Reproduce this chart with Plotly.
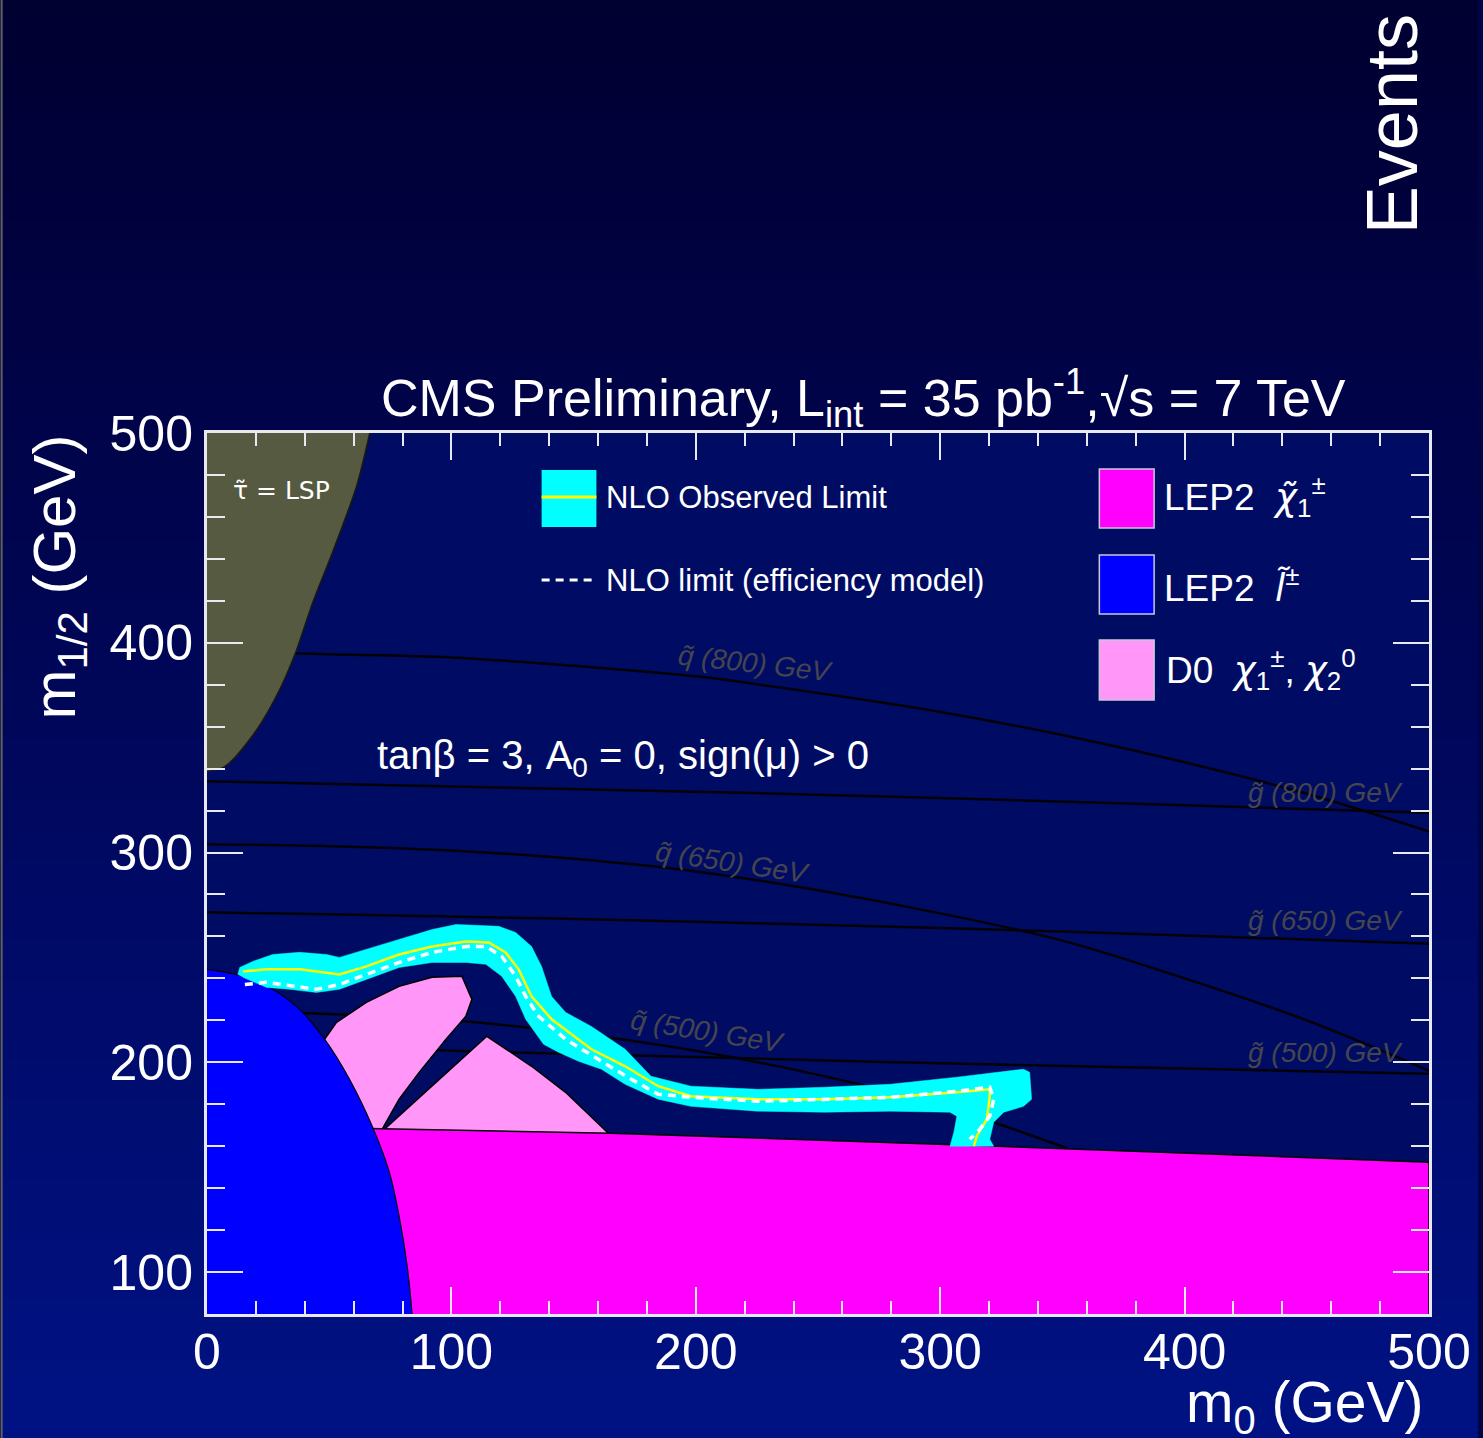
import plotly.graph_objects as go

# ---------------- data ----------------
# iso-mass lines (m0, m1/2) in GeV
q800_m0 = [36, 50, 100, 150, 200, 250, 300, 350, 400, 450, 500]
q800_m12 = [395, 394.5, 393, 389, 384, 376, 367, 356, 343, 328, 310]
q650_m0 = [0, 50, 100, 150, 200, 250, 300, 350, 400, 450, 500]
q650_m12 = [304, 303, 301, 297, 291, 282, 271, 258, 240, 220, 196]
q500_m0 = [30, 50, 100, 150, 200, 250, 300, 352]
q500_m12 = [224, 223, 220, 214, 205.5, 194, 179.5, 159]
g800_m0 = [0, 100, 200, 300, 400, 500]
g800_m12 = [334, 331.5, 329, 326, 322.5, 319]
g650_m0 = [0, 100, 200, 300, 400, 500]
g650_m12 = [271.5, 269.5, 267, 264, 260.5, 256.5]
g500_m0 = [45, 100, 200, 300, 400, 500]
g500_m12 = [208, 205.5, 202.5, 199.5, 197, 194.5]

# stau = LSP region boundary
stau_m0 = [-10, 0, 6.5, 10.6, 20.4, 29.7, 36.7, 43.2, 51.3, 61.1, 66.4, 70, 40, -10]
stau_m12 = [337, 338.6, 340.5, 344.3, 358.6, 377.6, 396.7, 419, 442.9, 474.3, 499, 520, 530, 520]

# LEP2 slepton region
blue_m0 = [-10, 0, 14.7, 26.9, 37.9, 48.1, 58.3, 67.6, 74.6, 78.6, 81.9, 83.9, 85, 40, -10]
blue_m12 = [245, 244.3, 241.0, 234.8, 225.2, 211.0, 191.9, 169.5, 147.6, 126.7, 102.9, 80, 60, 50, 60]

# LEP2 chargino region
mag_m0 = [0, 70, 165, 323, 500, 500, 0]
mag_m12 = [170, 168.4, 166.2, 160, 152.4, 70, 70]

# D0 chargino/neutralino regions
d0a_m0 = [48.1, 53.0, 65.2, 78.6, 92.1, 104.3, 108.4, 105.9, 97.8, 86.8, 78.6, 71.7, 60, 42]
d0a_m12 = [211.0, 219.0, 228.6, 236.2, 240.5, 241.0, 230, 221.9, 211, 195.2, 182.4, 168.1, 168, 205]
d0b_m0 = [72.5, 114.5, 132.8, 146.7, 164.2, 164.2, 72.5]
d0b_m12 = [168.0, 212.4, 198.1, 185.7, 166.2, 164, 166]

# NLO observed limit band (closed outline)
band_m0 = [12.6, 13.4, 18.7, 26.9, 37.9, 48.9, 54.2, 65.2, 78.6, 92.1, 101.9, 119.4, 126.3,
           132.8, 136.9, 141.0, 146.7, 157.3, 171.1, 181.7, 198.0, 225.3, 252.6, 279.5, 306.8,
           334.1, 336.6, 337.4, 334.1, 326.0, 321.9, 320.3, 321.9, 304.0, 305.6, 306.8, 304.0,
           279.5, 252.6, 225.3, 198.0, 184.6, 171.1, 161.4, 152.0, 143.8, 137.7, 130.4, 126.3,
           120.6, 114.1, 106.0, 92.1, 78.6, 65.2, 54.2, 44.8, 33.8, 24.4, 14.7]
band_m12 = [241.9, 245.2, 248.1, 251.4, 252.4, 251.4, 250.0, 253.8, 258.6, 263.3, 265.7, 264.8, 261.9,
            255.2, 245.7, 231.4, 223.8, 217.1, 206.2, 193.3, 188.6, 187.1, 188.1, 189.5, 192.9,
            196.7, 195.2, 182.4, 179.0, 176.2, 171.4, 163.3, 160.0, 160.0, 166.7, 174.3, 176.2,
            176.7, 176.2, 176.7, 179.0, 182.4, 189.5, 196.7, 200.5, 204.8, 208.6, 220.5, 231.4,
            241.0, 246.7, 247.6, 247.6, 245.2, 239.5, 234.8, 233.3, 234.8, 235.7, 240.5]

# NLO observed limit (central line)
obs_m0 = [14.7, 24.4, 37.9, 54.2, 65.2, 78.6, 92.1, 106.0, 115.3, 122.2, 127.5, 132.8, 141.0,
          157.3, 171.1, 184.6, 198.0, 225.3, 252.6, 279.5, 306.8, 320.3, 320.3, 319.1, 315.0, 313.8]
obs_m12 = [243.3, 244.3, 244.3, 241.9, 245.7, 251.4, 255.2, 257.6, 257.1, 252.4, 244.3, 231.4, 220.5,
           206.2, 198.1, 188.6, 183.8, 182.4, 182.4, 183.3, 185.7, 187.1, 183.8, 172.9, 164.8, 160.0]

# NLO limit, efficiency model
eff_m0 = [15.5, 24.4, 44.8, 54.2, 65.2, 78.6, 92.1, 106.0, 114.1, 120.6, 126.3, 130.4, 135.7,
          146.7, 160.1, 173.6, 184.6, 198.0, 225.3, 252.6, 279.5, 306.8, 320.3, 321.9, 320.3, 316.2, 312.1]
eff_m12 = [237.1, 238.1, 234.8, 237.1, 241.9, 247.6, 252.4, 255.2, 255.2, 250.5, 241.0, 231.4, 221.9,
           211.0, 201.4, 191.9, 184.8, 183.3, 181.4, 182.4, 183.3, 186.2, 188.1, 182.4, 174.3, 168.1, 163.3]

x_ticks = [0, 100, 200, 300, 400, 500]
y_ticks = [100, 200, 300, 400, 500]

# ---------------- figure ----------------
W, H = 1483, 1438
L, R, T, B = 207, 1434, 433, 1314
FONT = "Liberation Sans, Arial, sans-serif"
SYM = "DejaVu Sans"
PLOT_BG = "#000c63"


def ax(xp):
    return (xp - L) / (R - L)


def ay(yp):
    return (B - yp) / (B - T)


fig = go.Figure()

iso = [(q800_m0, q800_m12), (q650_m0, q650_m12), (q500_m0, q500_m12),
       (g800_m0, g800_m12), (g650_m0, g650_m12), (g500_m0, g500_m12)]
for xs, ys in iso:
    fig.add_trace(go.Scatter(x=xs, y=ys, mode="lines", line=dict(color="#020208", width=2.5),
                             line_shape="spline", hoverinfo="skip", showlegend=False))


def region(xs, ys, color, outline="#000000", w=1.5, shape="linear"):
    fig.add_trace(go.Scatter(x=xs, y=ys, mode="lines", fill="toself", fillcolor=color,
                             line=dict(color=outline, width=w, shape=shape, smoothing=0.8),
                             hoverinfo="skip", showlegend=False))


region(stau_m0, stau_m12, "#555a40", "#1a1a10", 1.5, "spline")
region(d0a_m0, d0a_m12, "#ff96f8", "#000000", 1.5)
region(d0b_m0, d0b_m12, "#ff96f8", "#000000", 1.5)
region(mag_m0, mag_m12, "#ff00ff", "#000000", 1.5)
region(blue_m0, blue_m12, "#0000ff", "#000010", 1.2, "spline")

fig.add_trace(go.Scatter(x=band_m0, y=band_m12, mode="lines", fill="toself", fillcolor="#00ffff",
                         line=dict(color="#00ffff", width=0.5), hoverinfo="skip", showlegend=False))
fig.add_trace(go.Scatter(x=obs_m0, y=obs_m12, mode="lines", line=dict(color="#ffff00", width=2.5),
                         hoverinfo="skip", showlegend=False))
fig.add_trace(go.Scatter(x=eff_m0, y=eff_m12, mode="lines",
                         line=dict(color="white", width=3.5, dash="8px,6px"),
                         hoverinfo="skip", showlegend=False))

shapes = []
# page gradient background
N = 72
for i in range(N):
    y0p = i * H / N
    y1p = (i + 1) * H / N + 1
    t = (i + 0.5) / N
    col = "rgb(0,%d,%d)" % (round(18 * t ** 1.4), round(48 + 84 * t))
    shapes.append(dict(type="rect", xref="paper", yref="paper", x0=ax(0), x1=ax(W),
                       y0=ay(y1p), y1=ay(y0p), fillcolor=col, line=dict(width=0), layer="below"))
shapes.append(dict(type="line", xref="paper", yref="paper", x0=ax(0.8), x1=ax(0.8), y0=ay(0), y1=ay(H),
                   line=dict(color="#606060", width=2), layer="below"))
# plot area background
shapes.append(dict(type="rect", xref="x", yref="y", x0=0, x1=500, y0=80, y1=500,
                   fillcolor=PLOT_BG, line=dict(width=0), layer="below"))

# legend swatches
shapes.append(dict(type="rect", xref="paper", yref="paper", x0=ax(543), x1=ax(598), y0=ay(527), y1=ay(470),
                   fillcolor="#00ffff", line=dict(width=0), layer="above"))
shapes.append(dict(type="line", xref="paper", yref="paper", x0=ax(543), x1=ax(598), y0=ay(497), y1=ay(497),
                   line=dict(color="#ffff00", width=3), layer="above"))
shapes.append(dict(type="line", xref="paper", yref="paper", x0=ax(543), x1=ax(598), y0=ay(580), y1=ay(580),
                   line=dict(color="white", width=3, dash="8px,6px"), layer="above"))
for y0p, y1p, col in [(469, 528, "#ff00ff"), (555, 614, "#0000ff"), (640, 700, "#ff96f8")]:
    shapes.append(dict(type="rect", xref="paper", yref="paper", x0=ax(1103), x1=ax(1158),
                       y0=ay(y1p), y1=ay(y0p), fillcolor=col,
                       line=dict(color="#c8c8d8", width=1.5), layer="above"))

annotations = []


def txt(text, xp, yp, size, color="white", xanchor="left", angle=0, italic=False, family=FONT):
    annotations.append(dict(text=("<i>%s</i>" % text) if italic else text, x=ax(xp), y=ay(yp),
                            xref="paper", yref="paper", xanchor=xanchor, yanchor="middle",
                            showarrow=False, textangle=angle,
                            font=dict(family=family, size=size, color=color)))


def sym(s):
    return "<span style='font-family:DejaVu Sans'>%s</span>" % s


txt("CMS Preliminary, L<sub>int</sub> = 35 pb<sup>-1</sup>,√s = 7 TeV", 866, 398, 52, xanchor="center")
txt("m<sub>1/2</sub> (GeV)", 58, 577, 60, xanchor="center", angle=-90)
txt("m<sub>0</sub> (GeV)", 1431, 1406, 57, xanchor="right")
txt("Events", 1397, 124, 72, xanchor="center", angle=-90)
txt("tanβ = 3, A<sub>0</sub> = 0, sign(μ) > 0", 376, 758, 40)
txt("τ\u0303 = LSP", 231, 490, 25, family=SYM)
txt("NLO Observed Limit", 606, 497, 31)
txt("NLO limit (efficiency model)", 606, 580, 31)
txt("LEP2  " + sym("<i>χ\u0303</i>") + "<sub>1</sub><sup>±</sup>", 1166, 496, 37)
txt("LEP2  " + sym("<i>l\u0303</i>") + "<sup>±</sup>", 1166, 586, 37)
txt("D0  " + sym("<i>χ</i>") + "<sub>1</sub><sup>±</sup>, " + sym("<i>χ</i>") + "<sub>2</sub><sup>0</sup>",
    1168, 669, 37)

LBL = "#45454e"
txt("q\u0303 (800) GeV", 758, 663, 28, color=LBL, xanchor="center", angle=6.5, italic=True)
txt("q\u0303 (650) GeV", 735, 862, 28, color=LBL, xanchor="center", angle=8.5, italic=True)
txt("q\u0303 (500) GeV", 710, 1031, 28, color=LBL, xanchor="center", angle=9, italic=True)
txt("g\u0303 (800) GeV", 1330, 792, 28, color=LBL, xanchor="center", italic=True)
txt("g\u0303 (650) GeV", 1330, 920, 28, color=LBL, xanchor="center", italic=True)
txt("g\u0303 (500) GeV", 1330, 1052, 28, color=LBL, xanchor="center", italic=True)

axis_common = dict(showgrid=False, zeroline=False, showline=True, linecolor="#e8e8f0", linewidth=3,
                   mirror="ticks", ticks="inside", tickcolor="#e8e8f0", tickwidth=2,
                   tickfont=dict(family=FONT, size=50, color="white"))

fig.update_layout(
    width=W, height=H,
    margin=dict(l=L, r=W - R, t=T, b=H - B),
    paper_bgcolor="#000545",
    plot_bgcolor="rgba(0,0,0,0)",
    showlegend=False,
    shapes=shapes,
    annotations=annotations,
    xaxis=dict(range=[0, 500], tickvals=x_ticks, ticklen=27,
               minor=dict(dtick=20, tick0=0, ticks="inside", ticklen=13, tickcolor="#e8e8f0", tickwidth=2),
               ticklabelstandoff=-8, **axis_common),
    yaxis=dict(range=[80, 500], tickvals=y_ticks, ticklen=36,
               minor=dict(dtick=20, tick0=0, ticks="inside", ticklen=18, tickcolor="#e8e8f0", tickwidth=2),
               ticklabelstandoff=1, **axis_common),
)

fig.write_html("out.html", config={"displayModeBar": False},
               post_script="document.body.style.margin='0';document.body.style.overflow='hidden';")
